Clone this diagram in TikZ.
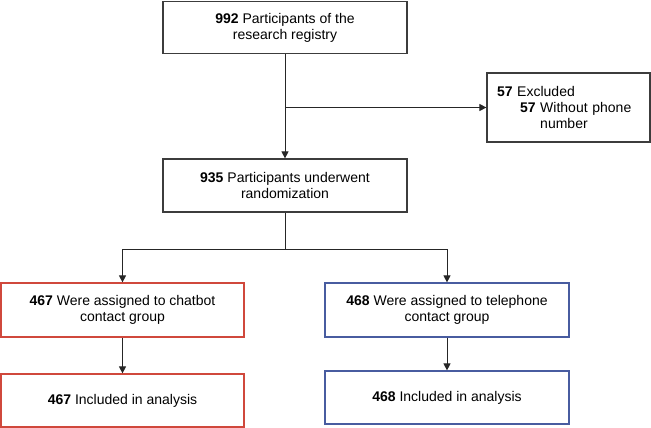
\documentclass[tikz,border=0pt]{standalone}
\usepackage{fontspec}
\setmainfont{Liberation Sans}
\usetikzlibrary{arrows.meta}

\definecolor{boxgray}{RGB}{60,60,60}
\definecolor{chatred}{RGB}{208,72,60}
\definecolor{telblue}{RGB}{72,92,160}

\tikzset{
  flowbox/.style={draw=boxgray, line width=1.2pt, align=center, inner sep=2pt,
    font=\fontsize{14}{16}\selectfont},
  link/.style={line width=1pt, draw=black!85},
  arrowlink/.style={link, -{Triangle[width=7pt,length=7pt]}}
}

\begin{document}
\begin{tikzpicture}[x=1pt, y=-1pt]
    \useasboundingbox (0,0) rectangle (651,428);

    % Boxes
    \node[flowbox, minimum width=244pt, minimum height=52pt] (registry) at (285,27.5)
        {\textbf{992} Participants of the\\research registry};
    \node[flowbox, minimum width=163pt, minimum height=69pt, text width=143pt,
        align=left, inner xsep=10pt] (excluded) at (568.5,107.5)
        {\textbf{57} Excluded\\
         \hspace*{23pt}\textbf{57} Without phone\\
         \hspace*{23pt}\phantom{\textbf{57} }number};
    \node[flowbox, minimum width=244pt, minimum height=53pt] (random) at (285,185.5)
        {\textbf{935} Participants underwent\\randomization};

    \node[flowbox, draw=chatred, minimum width=243pt, minimum height=54pt] (chatbot) at (122.5,310)
        {\textbf{467} Were assigned to chatbot\\contact group};
    \node[flowbox, draw=telblue, minimum width=244pt, minimum height=54pt] (phone) at (447,310)
        {\textbf{468} Were assigned to telephone\\contact group};

    \node[flowbox, draw=chatred, minimum width=243pt, minimum height=53pt] (chatres) at (122.5,400.5)
        {\textbf{467} Included in analysis};
    \node[flowbox, draw=telblue, minimum width=244pt, minimum height=53pt] (phoneres) at (447,397.5)
        {\textbf{468} Included in analysis};

    % Connectors
    \coordinate (branch) at (registry.south |- excluded.west);
    \coordinate (split) at (285,249);
    \draw[arrowlink] (registry) -- (random);
    \draw[arrowlink] (branch) -- (excluded.west);
    \draw[link] (random) -- (split);
    \draw[arrowlink] (split) -| (chatbot.north);
    \draw[arrowlink] (split) -| (phone.north);
    \draw[arrowlink] (chatbot) -- (chatres);
    \draw[arrowlink] (phone) -- (phoneres);
\end{tikzpicture}
\end{document}
